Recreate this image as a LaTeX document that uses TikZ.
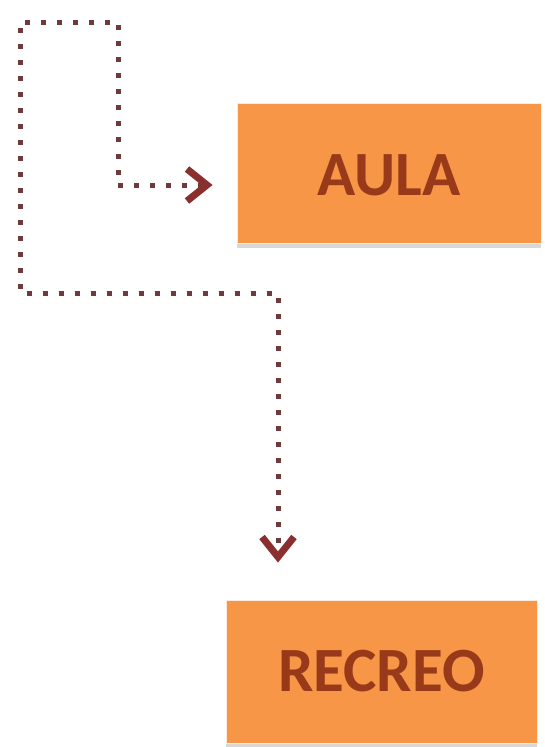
\documentclass[tikz,border=0pt]{standalone}
\usepackage{fontspec}
\setmainfont{Carlito}
\usetikzlibrary{arrows.meta,shadows}
\definecolor{boxorange}{HTML}{F79646}
\definecolor{boxtext}{HTML}{983A1A}
\definecolor{dotcol}{HTML}{6E3A3C}
\definecolor{tipcol}{HTML}{8B2E2E}
\tikzset{
  box/.style={rectangle, fill=boxorange, draw=boxorange!20, line width=0.8pt,
    text=boxtext, font=\bfseries\fontsize{63}{63}\selectfont,
    drop shadow={shadow xshift=0pt, shadow yshift=-5pt, fill=black!25, opacity=0.6}},
  conn/.style={draw=dotcol, line width=5pt, dash pattern=on 5pt off 11pt,
    {Straight Barb[length=20pt,width=32pt,line width=7pt,color=tipcol]}-{Straight Barb[length=20pt,width=32pt,line width=7pt,color=tipcol]}}
}
\begin{document}
\begin{tikzpicture}[x=1pt,y=-1pt]
\useasboundingbox[fill=white] (0,0) rectangle (545,747);
\node[box, minimum width=304pt, minimum height=140pt, text depth=0pt] (aula) at (389,173) {\raisebox{-4pt}{AULA}};
\node[box, minimum width=311pt, minimum height=143pt] (recreo) at (381.5,671.5) {RECREO};
\coordinate (s) at ([shift={(-24,12)}]aula.west);
\coordinate (e) at ([shift={(-103.5,-37)}]recreo.north);
\draw[conn] (s) -- (118,185) -- (118,22) -- (20,22) -- (20,293) -- (278,293) -- (e);
\end{tikzpicture}
\end{document}
